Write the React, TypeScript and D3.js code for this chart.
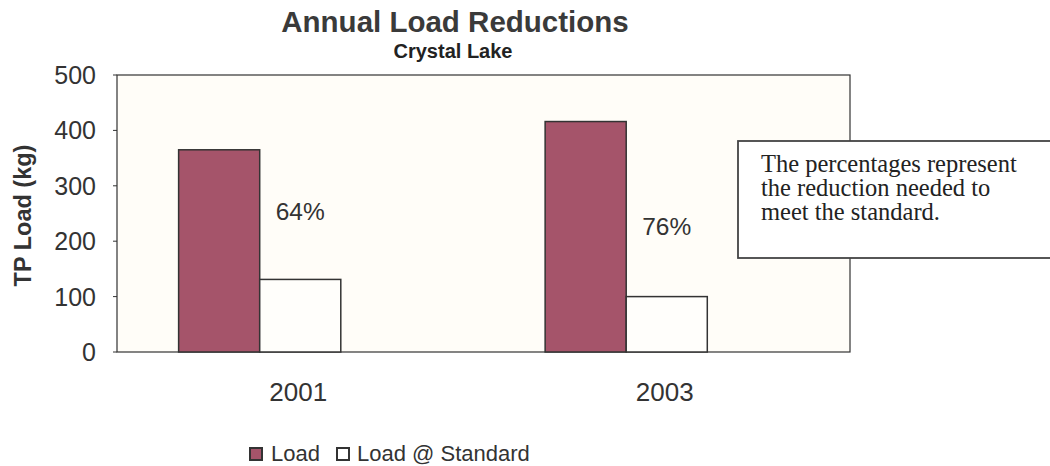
import React from "react";
import * as d3 from "d3";

const categories = ["2001", "2003"];
const seriesNames = ["Load", "Load @ Standard"];
const loadValues = [365, 416];
const standardValues = [131, 100];
const pctLabelAt = [255, 228];
const yTicks = [0, 100, 200, 300, 400, 500];
const noteLines = [
  "The percentages represent",
  "the reduction needed to",
  "meet the standard.",
];

const W = 1050;
const H = 466;
const plot = { left: 117, right: 850, top: 75, bottom: 352 };
const loadColor = "#a5546a";
const sans = "Arial, 'Liberation Sans', Helvetica, sans-serif";
const serif = "'Times New Roman', 'Liberation Serif', serif";
const ink = "#333";

export default function App() {
  const x0 = d3
    .scaleBand<string>()
    .domain(categories)
    .range([plot.left, plot.right])
    .paddingInner(0)
    .paddingOuter(0);
  const x1 = d3
    .scaleBand<string>()
    .domain([...seriesNames, "_gap"])
    .range([0, x0.bandwidth()])
    .paddingInner(0)
    .paddingOuter(0.76);
  const y = d3.scaleLinear().domain([0, 500]).range([plot.bottom, plot.top]);

  const series = [
    { name: seriesNames[0], values: loadValues, fill: loadColor },
    { name: seriesNames[1], values: standardValues, fill: "#fffefb" },
  ];

  return (
    <svg
      width={W}
      height={H}
      style={{ position: "fixed", left: 0, top: 0, background: "#fff" }}
      fontFamily={sans}
    >
      <rect x={0} y={0} width={W} height={H} fill="#fff" />
      {/* title */}
      <text x={455} y={32} textAnchor="middle" fontSize={29.5} fontWeight="bold" fill="#3a3a3a">
        Annual Load Reductions
      </text>
      <text x={453} y={58} textAnchor="middle" fontSize={20} fontWeight="bold" fill="#222">
        Crystal Lake
      </text>

      {/* plot area */}
      <rect
        x={plot.left}
        y={plot.top}
        width={plot.right - plot.left}
        height={plot.bottom - plot.top}
        fill="#fffdf8"
        stroke={ink}
        strokeWidth={1.2}
      />

      {/* y ticks */}
      {yTicks.map((t) => (
        <g key={t}>
          <line x1={plot.left - 4} x2={plot.left} y1={y(t)} y2={y(t)} stroke={ink} strokeWidth={1} />
          <text
            x={96}
            y={y(t)}
            dy="0.36em"
            textAnchor="end"
            fontSize={25}
            fill="#333"
          >
            {t}
          </text>
        </g>
      ))}
      <text
        transform={`translate(31, ${(plot.top + plot.bottom) / 2 + 2}) rotate(-90)`}
        textAnchor="middle"
        fontSize={23.5}
        fontWeight="bold"
        fill="#333"
      >
        TP Load (kg)
      </text>

      {/* bars */}
      {categories.map((c, i) => (
        <g key={c} transform={`translate(${x0(c)},0)`}>
          {series.map((s) => (
            <rect
              key={s.name}
              x={x1(s.name)}
              y={y(s.values[i])}
              width={x1.bandwidth()}
              height={y(0) - y(s.values[i])}
              fill={s.fill}
              stroke={ink}
              strokeWidth={1.5}
            />
          ))}
          <text
            x={x0.bandwidth() / 2}
            y={y(pctLabelAt[i])}
            dy="0.36em"
            textAnchor="middle"
            fontSize={24.5}
            fill="#333"
          >
            {`${Math.round((1 - standardValues[i] / loadValues[i]) * 100)}%`}
          </text>
          <text
            x={x0.bandwidth() / 2 - 2}
            y={plot.bottom + 49}
            textAnchor="middle"
            fontSize={26}
            fill="#333"
          >
            {c}
          </text>
        </g>
      ))}

      {/* note box */}
      <rect x={738} y={141} width={330} height={117} fill="#fff" stroke="#444" strokeWidth={1.8} />
      {noteLines.map((l, i) => (
        <text key={i} x={761} y={172 + i * 24} fontFamily={serif} fontSize={24.5} fill="#222">
          {l}
        </text>
      ))}

      {/* legend */}
      <g>
        <rect x={250} y={448} width={12} height={12} fill={loadColor} stroke={ink} strokeWidth={2} />
        <text x={271} y={461} fontSize={22} fill="#333">
          {seriesNames[0]}
        </text>
        <rect x={337} y={448} width={12} height={12} fill="#fff" stroke={ink} strokeWidth={2} />
        <text x={357} y={461} fontSize={22} fill="#333">
          {seriesNames[1]}
        </text>
      </g>
    </svg>
  );
}
